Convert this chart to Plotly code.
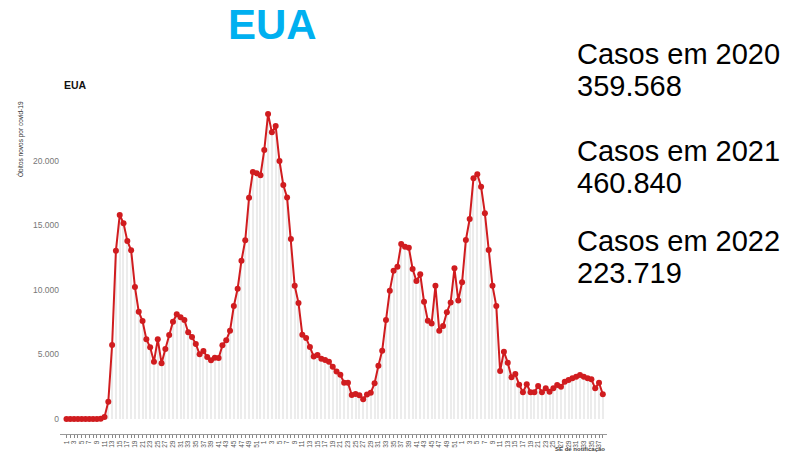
import plotly.graph_objects as go

# epidemiological weeks shown on the x axis (2020, 2021, 2022)
semanas = list(range(1, 53)) + list(range(1, 53)) + list(range(1, 39))

obitos_2020 = [0, 0, 0, 0, 0, 0, 0, 0, 0, 20, 150, 1341, 5736, 13050, 15814, 15170,
               13800, 13075, 10230, 8320, 7597, 6178, 5558, 4442, 6178, 4318, 5426,
               6511, 7543, 8113, 7880, 7674, 6718, 6357, 5814, 5013, 5271, 4806, 4548,
               4754, 4729, 5710, 6100, 6848, 8760, 10100, 12270, 13850, 17150, 19150,
               19050, 18890]
obitos_2021 = [20850, 23640, 22220, 22710, 20000, 18140, 17180, 13950, 10330, 9000,
               6540, 6280, 5580, 4850, 4960, 4670, 4570, 4440, 4050, 3680, 3430, 2810,
               2810, 1860, 1940, 1840, 1530, 1890, 2040, 2770, 4130, 5300, 7670, 9950,
               11500, 11810, 13570, 13360, 13280, 11630, 10700, 11220, 9090, 7620, 7410,
               10330, 6850, 7210, 8270, 9040, 11680, 9180]
obitos_2022 = [10600, 13880, 15500, 18660, 18970, 18000, 15940, 13100, 10330, 8760,
               3720, 5220, 4370, 3230, 3480, 2660, 2070, 2690, 2070, 2070, 2560, 2070,
               2380, 2120, 2380, 2630, 2500, 2890, 3020, 3150, 3280, 3410, 3280, 3150,
               3080, 2380, 2810, 1910]

totais = ["359.568", "460.840", "223.719"]
anos = ["2020", "2021", "2022"]

y_ticks = [0, 5000, 10000, 15000, 20000]

obitos = obitos_2020 + obitos_2021 + obitos_2022
idx = list(range(len(obitos)))
tick_text = [str(s) if i % 2 == 0 else "" for i, s in enumerate(semanas)]

FONT = "Arial, 'Liberation Sans', sans-serif"
OFF = 8  # the page body adds an 8px margin
W, H = 789 - OFF, 452 - OFF
# plot area in window pixels
L, R, T, B = 60, 607, 95, 434


def pos(x, y):
    # window pixel position -> paper coordinates
    return (x - L) / (R - L), (B - y) / (B - T)


fig = go.Figure()

# light grey drop lines under each point
fig.add_trace(go.Bar(
    x=idx, y=obitos, width=0.28,
    marker=dict(color="#ececec", line=dict(width=0)),
    hoverinfo="skip"
))

fig.add_trace(go.Scatter(
    x=idx, y=obitos, mode="lines+markers",
    line=dict(color="#d01c1f", width=2),
    marker=dict(color="#d01c1f", size=6)
))

annotations = []

x, y = pos(272, 24)
annotations.append(dict(x=x, y=y, text="<b>EUA</b>", xanchor="center", yanchor="middle",
                        font=dict(size=42, color="#00b0f0", family=FONT)))

x, y = pos(62, 85)
annotations.append(dict(x=x, y=y, text="<b>EUA</b>", xanchor="left", yanchor="middle",
                        font=dict(size=10.5, color="#111", family=FONT)))

x, y = pos(20, 139)
annotations.append(dict(x=x, y=y, text="Óbitos novos por covid-19", textangle=-90,
                        xanchor="center", yanchor="middle",
                        font=dict(size=6.5, color="#333", family=FONT)))

x, y = pos(607, 444)
annotations.append(dict(x=x, y=y, text="<b>SE de notificação</b>", xanchor="right",
                        yanchor="top", font=dict(size=6, color="#444", family=FONT)))

centros = [(54, 86), (151, 183), (241, 273)]
for ano, total, (y1, y2) in zip(anos, totais, centros):
    x, y = pos(575, y1)
    annotations.append(dict(x=x, y=y, text="Casos em " + ano, xanchor="left",
                            yanchor="middle", font=dict(size=29, color="#000", family=FONT)))
    x, y = pos(575, y2)
    annotations.append(dict(x=x, y=y, text=total, xanchor="left",
                            yanchor="middle", font=dict(size=29, color="#000", family=FONT)))

for a in annotations:
    a.update(xref="paper", yref="paper", showarrow=False)

px_per_unit = 0.0129
y_min = -(B - 419) / px_per_unit
y_max = y_min + (B - T) / px_per_unit

fig.update_layout(
    width=W, height=H,
    margin=dict(l=L - OFF, r=789 - R, t=T - OFF, b=452 - B),
    paper_bgcolor="white", plot_bgcolor="white",
    showlegend=False, separators=",.",
    font=dict(family=FONT),
    annotations=annotations,
    bargap=0,
    xaxis=dict(
        range=[-1.7, 142.1], tickmode="array", tickvals=idx, ticktext=tick_text,
        tickangle=-90, tickfont=dict(size=6.5, color="#555"),
        ticks="outside", ticklen=3, tickcolor="#888",
        showline=True, linecolor="#999", showgrid=False, zeroline=False,
        automargin=False
    ),
    yaxis=dict(
        range=[y_min, y_max], tickmode="array", tickvals=y_ticks, tickformat=",d",
        tickfont=dict(size=8.5, color="#777"), showgrid=False, zeroline=False,
        showline=False, automargin=False
    ),
)

fig.write_html("out.html")
